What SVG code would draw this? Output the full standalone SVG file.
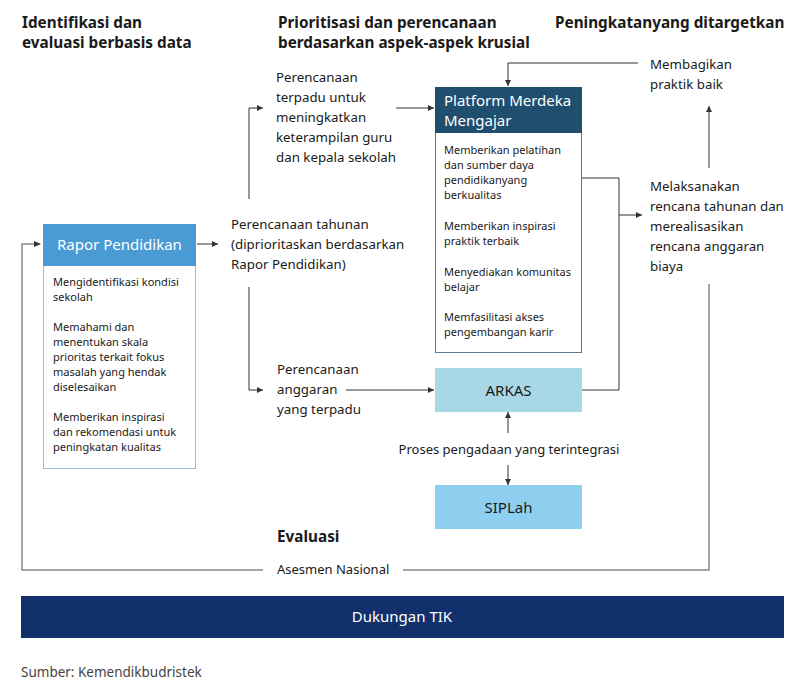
<svg xmlns="http://www.w3.org/2000/svg" width="800" height="688" viewBox="0 0 800 688">
<defs>
<marker id="ah" viewBox="0 0 6 6" refX="6" refY="3" markerWidth="6" markerHeight="6" markerUnits="userSpaceOnUse" orient="auto"><path d="M0,0 L6,3 L0,6 z" fill="#333"/></marker>
</defs>
<style>
text{font-family:"Noto Sans","Open Sans","DejaVu Sans",sans-serif;fill:#1a1a1a}
.h{font-size:15.3px;font-weight:bold}
.t{font-size:13.3px}
.s{font-size:11px}
.w{fill:#fff;font-size:15px}
.c{stroke:#333;stroke-width:1;fill:none}
.g{stroke:#888;stroke-width:1.5;fill:none}
</style>
<rect width="800" height="688" fill="#fff"/>
<g id="titles">
<text class="h" x="22" y="28">Identifikasi dan</text>
<text class="h" x="22" y="48">evaluasi berbasis data</text>
<text class="h" x="278" y="28">Prioritisasi dan perencanaan</text>
<text class="h" x="278" y="48">berdasarkan aspek-aspek krusial</text>
<text class="h" x="555" y="28">Peningkatanyang ditargetkan</text>
</g>
<g id="connectors">
<path class="c" d="M197,244 H218" marker-end="url(#ah)"/>
<path class="c" d="M249,199 V108 H263" marker-end="url(#ah)"/>
<path class="c" d="M396,108 H434" marker-end="url(#ah)"/>
<path class="c" d="M249,287 V390 H263" marker-end="url(#ah)"/>
<path class="c" d="M346,390 H434" marker-end="url(#ah)"/>
<path class="c" d="M582,178 H619 V390 H582"/>
<path class="c" d="M619,215 H642" marker-end="url(#ah)"/>
<path class="c" d="M638,63 H508 V86" marker-end="url(#ah)"/>
<path class="c" d="M709,168 V106" marker-end="url(#ah)"/>
<path class="c" d="M508,433 V412" marker-end="url(#ah)"/>
<path class="c" d="M508,465 V485" marker-end="url(#ah)"/>
<path class="g" d="M709,284 V570 H403"/>
<path class="g" d="M263,570 H22 V244 H40"/>
<path d="M34,241 L41,244 L34,247 z" fill="#333"/>
</g>
<g id="rapor">
<rect x="43.5" y="224.5" width="152" height="244" fill="#fff" stroke="#8cc0e6"/>
<rect x="43" y="224" width="153" height="42" fill="#4a9ad4"/>
<text class="w" x="57" y="250">Rapor Pendidikan</text>
<text class="s" x="53" y="286">Mengidentifikasi kondisi</text>
<text class="s" x="53" y="301">sekolah</text>
<text class="s" x="53" y="331">Memahami dan</text>
<text class="s" x="53" y="346">menentukan skala</text>
<text class="s" x="53" y="361">prioritas terkait fokus</text>
<text class="s" x="53" y="376">masalah yang hendak</text>
<text class="s" x="53" y="391">diselesaikan</text>
<text class="s" x="53" y="421">Memberikan inspirasi</text>
<text class="s" x="53" y="436">dan rekomendasi untuk</text>
<text class="s" x="53" y="451">peningkatan kualitas</text>
</g>
<g id="tahunan">
<text class="t" x="231" y="229">Perencanaan tahunan</text>
<text class="t" x="231" y="249">(diprioritaskan berdasarkan</text>
<text class="t" x="231" y="269">Rapor Pendidikan)</text>
</g>
<g id="terpadu">
<text class="t" x="276" y="82">Perencanaan</text>
<text class="t" x="276" y="102">terpadu untuk</text>
<text class="t" x="276" y="122">meningkatkan</text>
<text class="t" x="276" y="142">keterampilan guru</text>
<text class="t" x="276" y="162">dan kepala sekolah</text>
</g>
<g id="anggaran">
<text class="t" x="277" y="374">Perencanaan</text>
<text class="t" x="277" y="394">anggaran</text>
<text class="t" x="277" y="414">yang terpadu</text>
</g>
<g id="platform">
<rect x="435.5" y="87.5" width="146" height="265" fill="#fff" stroke="#5a7a95"/>
<rect x="435" y="87" width="147" height="46" fill="#1f4e6e"/>
<text class="w" x="444" y="106">Platform Merdeka</text>
<text class="w" x="444" y="126">Mengajar</text>
<text class="s" x="444" y="154">Memberikan pelatihan</text>
<text class="s" x="444" y="169">dan sumber daya</text>
<text class="s" x="444" y="184">pendidikanyang</text>
<text class="s" x="444" y="199">berkualitas</text>
<text class="s" x="444" y="230">Memberikan inspirasi</text>
<text class="s" x="444" y="245">praktik terbaik</text>
<text class="s" x="444" y="276">Menyediakan komunitas</text>
<text class="s" x="444" y="291">belajar</text>
<text class="s" x="444" y="321">Memfasilitasi akses</text>
<text class="s" x="444" y="336">pengembangan karir</text>
</g>
<g id="arkas">
<rect x="435" y="368" width="147" height="44" fill="#a8d8e5"/>
<text x="508.5" y="396" text-anchor="middle" style="font-size:15px">ARKAS</text>
</g>
<g id="proses">
<text x="509" y="454" text-anchor="middle" style="font-size:13px">Proses pengadaan yang terintegrasi</text>
</g>
<g id="siplah">
<rect x="435" y="485" width="147" height="44" fill="#8ecff0"/>
<text x="508.5" y="513" text-anchor="middle" style="font-size:15px">SIPLah</text>
</g>
<g id="membagikan">
<text class="t" x="650" y="69">Membagikan</text>
<text class="t" x="650" y="89">praktik baik</text>
</g>
<g id="melaksanakan">
<text class="t" x="650" y="191">Melaksanakan</text>
<text class="t" x="650" y="211">rencana tahunan dan</text>
<text class="t" x="650" y="231">merealisasikan</text>
<text class="t" x="650" y="251">rencana anggaran</text>
<text class="t" x="650" y="271">biaya</text>
</g>
<g id="evaluasi">
<text class="h" x="277" y="542">Evaluasi</text>
<text x="277" y="574" style="font-size:13px">Asesmen Nasional</text>
</g>
<g id="tik">
<rect x="21" y="596" width="763" height="42" fill="#12306b"/>
<text x="402" y="622" text-anchor="middle" style="fill:#fff;font-size:15px">Dukungan TIK</text>
</g>
<text x="21" y="677" style="font-size:13.5px;fill:#444">Sumber: Kemendikbudristek</text>
</svg>
